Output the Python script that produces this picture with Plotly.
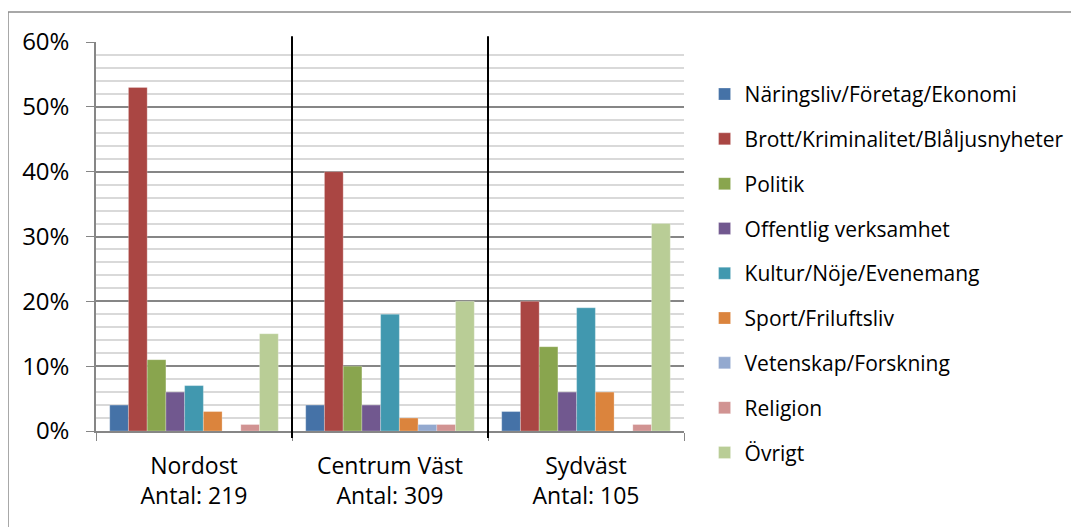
import plotly.graph_objects as go

# kategorier (områden) och andelar per ämne
omraden = ['Nordost<br>Antal: 219', 'Centrum Väst<br>Antal: 309', 'Sydväst<br>Antal: 105']
amnen = ['Näringsliv/Företag/Ekonomi', 'Brott/Kriminalitet/Blåljusnyheter', 'Politik',
         'Offentlig verksamhet', 'Kultur/Nöje/Evenemang', 'Sport/Friluftsliv',
         'Vetenskap/Forskning', 'Religion', 'Övrigt']
naringsliv = [0.04, 0.04, 0.03]
brott = [0.53, 0.40, 0.20]
politik = [0.11, 0.10, 0.13]
offentlig = [0.06, 0.04, 0.06]
kultur = [0.07, 0.18, 0.19]
sport = [0.03, 0.02, 0.06]
vetenskap = [0.0, 0.01, 0.0]
religion = [0.01, 0.01, 0.01]
ovrigt = [0.15, 0.20, 0.32]
y_ticks = [0, 0.1, 0.2, 0.3, 0.4, 0.5, 0.6]
y_ticktext = ['0%', '10%', '20%', '30%', '40%', '50%', '60%']

farger = ['#4572A7', '#AA4643', '#89A54E', '#71588F', '#4198AF',
          '#DB843D', '#93A9CF', '#D19392', '#B9CD96']
serier = [naringsliv, brott, politik, offentlig, kultur, sport, vetenskap, religion, ovrigt]

fig = go.Figure()
for i, (namn, varden) in enumerate(zip(amnen, serier)):
    fig.add_trace(go.Bar(x=omraden, y=varden, name=namn, legendgroup=str(i),
                         marker_color=farger[i],
                         marker_line=dict(color='rgba(255,255,255,0.5)', width=0.5)))

# svarta avdelare mellan grupperna
for xpos in [0.5, 1.5]:
    fig.add_shape(type='line', xref='x', yref='paper', x0=xpos, x1=xpos,
                  y0=-0.018, y1=1.015, line=dict(color='black', width=2))

# plotytan i pixlar (sidan har 8px marginal i webbläsaren)
FW, FH = 1071, 519
L, T, W, H = 88, 34, 588, 389

# yttre ram (vänster + överkant syns)
fig.add_shape(type='rect', xref='paper', yref='paper',
              x0=(0 - L) / W, x1=(1100 - L) / W,
              y0=(T + H - 560) / H, y1=(T + H - 4) / H,
              line=dict(color='#8c8c8c', width=1.5), layer='below')

fig.update_layout(
    width=FW, height=FH,
    margin=dict(l=L, r=FW - L - W, t=T, b=FH - T - H, autoexpand=False),
    paper_bgcolor='white', plot_bgcolor='white',
    font=dict(family='Open Sans', color='black'),
    barmode='group', bargap=0.14, bargroupgap=0,
    legend=dict(x=1.035, y=0.918, xanchor='left', yanchor='top',
                font=dict(size=21), tracegroupgap=14.5,
                itemwidth=30, maxheight=600),
    showlegend=True,
)
fig.update_xaxes(showline=True, linecolor='#868686', linewidth=1.5, automargin=False,
                 ticks='outside', tickson='boundaries', ticklen=8, tickcolor='#868686',
                 tickfont=dict(size=23), ticklabelstandoff=14, showgrid=False)
fig.update_yaxes(range=[0, 0.6], tickvals=y_ticks, ticktext=y_ticktext, automargin=False,
                 showline=True, linecolor='#868686', linewidth=1.5,
                 ticks='outside', ticklen=8, tickcolor='#868686', ticklabelstandoff=12,
                 tickfont=dict(size=24), showgrid=True, gridcolor='#868686', gridwidth=1.5,
                 minor=dict(dtick=0.02, showgrid=True, gridcolor='#d9d9d9', gridwidth=1.5),
                 zeroline=False)

fig.write_html('out.html')
